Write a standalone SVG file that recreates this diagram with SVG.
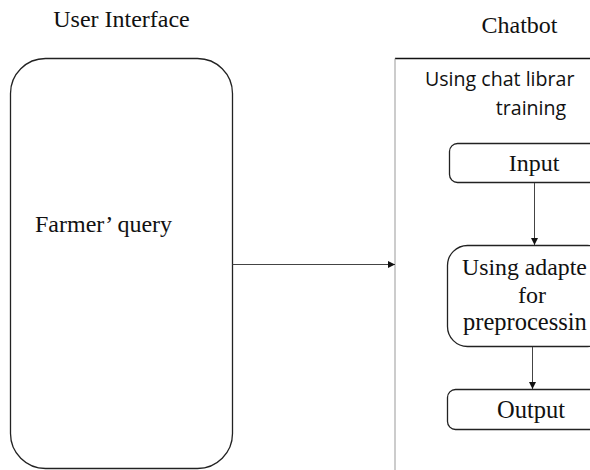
<svg xmlns="http://www.w3.org/2000/svg" width="590" height="470" viewBox="0 0 590 470">
<defs>
<style>
.serif{font-family:'Liberation Serif','Times New Roman',serif;fill:#111;}
.sans{font-family:'Open Sans','Liberation Sans',sans-serif;fill:#111;}
.box{fill:#fff;stroke:#222;stroke-width:1.3;}
.conn{stroke:#444;stroke-width:1;fill:none;}
</style>
<marker id="ah" viewBox="0 0 10 10" refX="10" refY="5" markerWidth="7" markerHeight="7" orient="auto" markerUnits="userSpaceOnUse">
<path d="M0,0 L10,5 L0,10 z" fill="#111"/>
</marker>
</defs>
<rect width="590" height="470" fill="#fff"/>
<g id="user-interface">
<text class="serif" x="121.5" y="27" font-size="24" text-anchor="middle">User Interface</text>
<rect class="box" x="10.5" y="58.5" width="222" height="410" rx="35" ry="35"/>
<text class="serif" x="35" y="232" font-size="24">Farmer’ query</text>
</g>
<g id="chatbot">
<text class="serif" x="519.5" y="33" font-size="24" text-anchor="middle">Chatbot</text>
<line x1="395" y1="58.5" x2="590" y2="58.5" stroke="#111" stroke-width="1.3"/>
<line x1="395" y1="58.5" x2="395" y2="470" stroke="#999" stroke-width="1"/>
<text class="sans" x="425" y="85.5" font-size="19.6">Using chat librar</text>
<text class="sans" x="531" y="115" font-size="19.6" text-anchor="middle">training</text>
</g>
<g id="input">
<rect class="box" x="449.5" y="143.5" width="160" height="39" rx="8" ry="8"/>
<text class="serif" x="534" y="171" font-size="24" text-anchor="middle">Input</text>
</g>
<g id="adapter">
<rect class="box" x="447.5" y="245.5" width="160" height="101" rx="20" ry="20"/>
<text class="serif" x="462" y="275" font-size="23.8">Using adapte</text>
<text class="serif" x="532" y="303" font-size="24" text-anchor="middle">for</text>
<text class="serif" x="463" y="330" font-size="24.5">preprocessin</text>
</g>
<g id="output">
<rect class="box" x="447.5" y="389.5" width="160" height="40" rx="8" ry="8"/>
<text class="serif" x="531" y="418" font-size="24.5" text-anchor="middle">Output</text>
</g>
<g id="connectors">
<line class="conn" x1="232.5" y1="264.5" x2="395" y2="264.5" marker-end="url(#ah)"/>
<line class="conn" x1="534.5" y1="183" x2="534.5" y2="245" marker-end="url(#ah)"/>
<line class="conn" x1="532.5" y1="347" x2="532.5" y2="389" marker-end="url(#ah)"/>
</g>
</svg>
